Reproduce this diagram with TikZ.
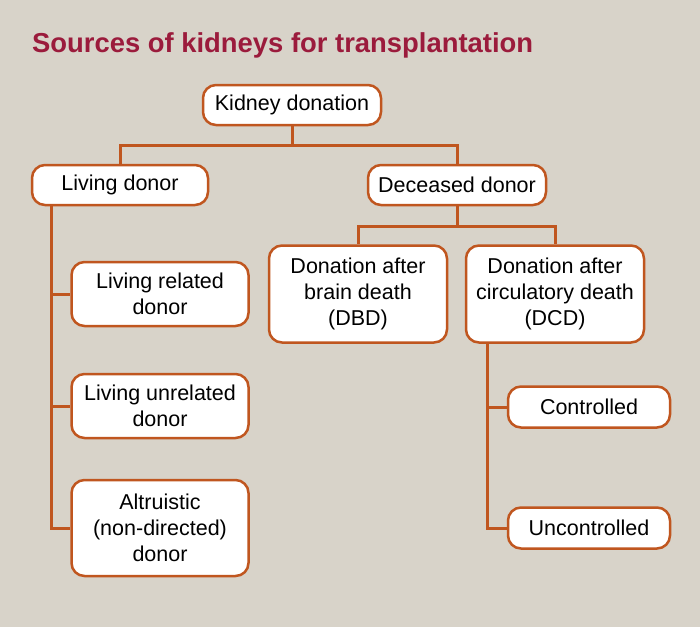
\documentclass[tikz,border=0pt]{standalone}
\usepackage{fontspec}
\setmainfont{Liberation Sans}
\definecolor{BG}{HTML}{D8D3C9}
\definecolor{EDGE}{HTML}{C0561F}
\definecolor{HEAD}{HTML}{9B1B3C}
\tikzset{%
  box/.style={draw=EDGE, line width=2.5pt, fill=white, rounded corners=13pt, align=center, text centered, inner sep=0pt, font=\fontsize{21.5}{26}\selectfont},%
  link/.style={draw=EDGE, line width=3pt}%
}

\begin{document}
\begin{tikzpicture}[x=1pt,y=-1pt]%
\fill[BG] (0,0) rectangle (700,627);%
\node[anchor=base west, text=HEAD, inner sep=0pt, font=\fontsize{27.4}{30}\selectfont\bfseries] (title) at (32,52) {Sources of kidneys for transplantation};%
% top level
\node[box, minimum width=178pt, minimum height=40pt] (kd) at (292,105) {Kidney donation};%
\node[box, minimum width=176pt, minimum height=40pt] (ld) at (120,185) {Living donor};%
\node[box, minimum width=178pt, minimum height=40pt] (dd) at (457,185) {Deceased donor};%
% living donors
\node[box, minimum width=177pt, minimum height=64pt] (lr) at (160,294) {Living related\\donor};%
\node[box, minimum width=177pt, minimum height=64pt] (lu) at (160,406) {Living unrelated\\donor};%
\node[box, minimum width=177pt, minimum height=96pt] (al) at (160,528) {Altruistic\\(non-directed)\\donor};%
% deceased donors
\node[box, minimum width=178pt, minimum height=97pt] (dbd) at (358,294) {Donation after\\brain death\\(DBD)};%
\node[box, minimum width=178pt, minimum height=97pt] (dcd) at (555,294) {Donation after\\circulatory death\\(DCD)};%
\node[box, minimum width=162pt, minimum height=41pt] (ctl) at (589,407) {Controlled};%
\node[box, minimum width=162pt, minimum height=41pt] (unc) at (589,528) {Uncontrolled};%
% connectors
\coordinate (lspine) at (51,205);%
\coordinate (dspine) at (487,342);%
\draw[link] (kd.south) -- ++(0,19) -| (ld.north);%
\draw[link] (kd.south) -- ++(0,19) -| (dd.north);%
\draw[link] (dd.south) -- ++(0,20) -| (dbd.north);%
\draw[link] (dd.south) -- ++(0,20) -| (dcd.north);%
\draw[link] (lspine) |- (lr.west);%
\draw[link] (lspine) |- (lu.west);%
\draw[link] (lspine) |- (al.west);%
\draw[link] (dspine) |- (ctl.west);%
\draw[link] (dspine) |- (unc.west);%
\end{tikzpicture}
\end{document}
